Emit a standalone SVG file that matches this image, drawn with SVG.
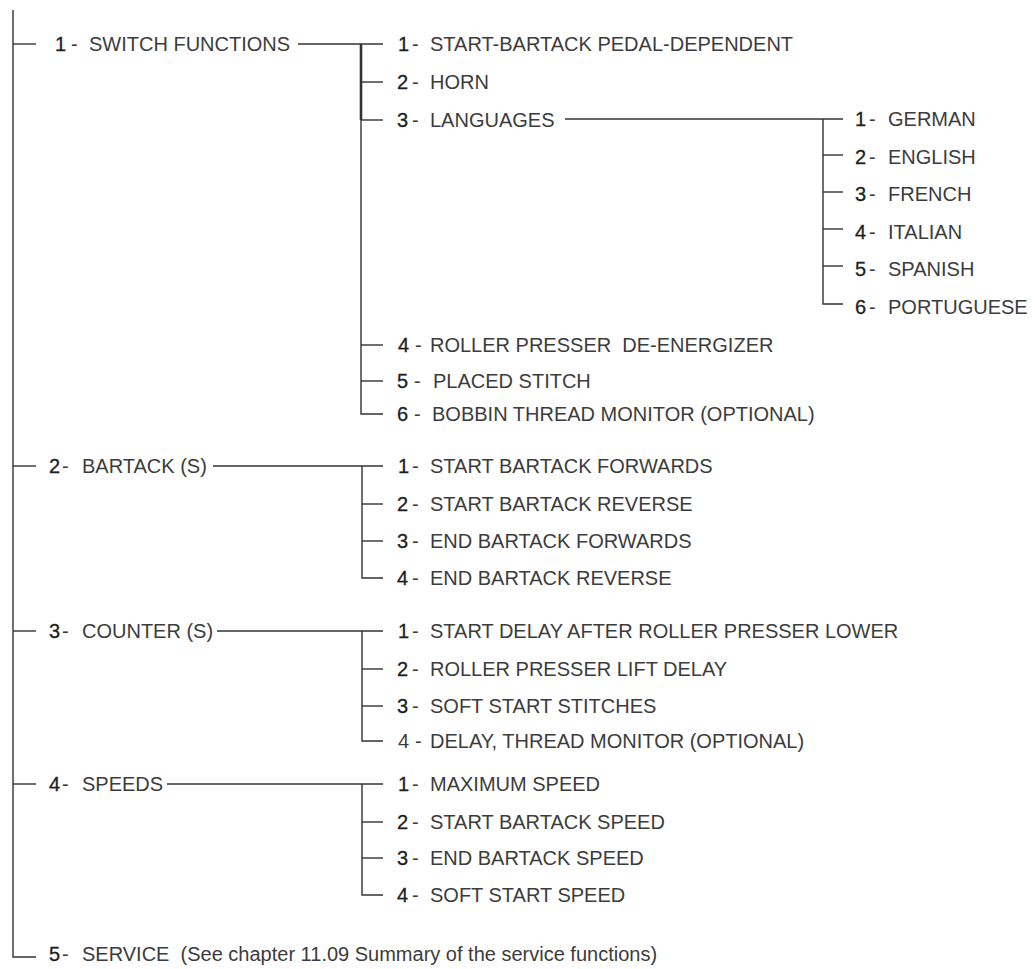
<svg xmlns="http://www.w3.org/2000/svg" width="1035" height="969" viewBox="0 0 1035 969">
<style>
text{font-family:"Liberation Sans",Arial,sans-serif;font-size:20px;fill:#3c3c3c;white-space:pre}
.n{fill:#1e1e1e;stroke:#1e1e1e;stroke-width:0.3}
.c line,.c path{stroke:#333;stroke-width:1.4;fill:none}
.c .thick{stroke-width:2.6}
</style>
<rect width="1035" height="969" fill="#fff"/>
<g class="c" id="connectors">
<path d="M13 10V957H36"/>
<line x1="13" y1="44" x2="36" y2="44"/>
<line x1="13" y1="466" x2="36" y2="466"/>
<line x1="13" y1="631" x2="36" y2="631"/>
<line x1="13" y1="784" x2="36" y2="784"/>
<line x1="298" y1="44" x2="383" y2="44"/>
<line class="thick" x1="361" y1="44" x2="361" y2="120"/>
<path d="M361 120V414H383"/>
<line x1="361" y1="82" x2="383" y2="82"/>
<line x1="361" y1="120" x2="383" y2="120"/>
<line x1="361" y1="345" x2="383" y2="345"/>
<line x1="361" y1="381" x2="383" y2="381"/>
<line x1="565" y1="119" x2="843" y2="119"/>
<path d="M823 119V304H843"/>
<line x1="823" y1="155" x2="843" y2="155"/>
<line x1="823" y1="192" x2="843" y2="192"/>
<line x1="823" y1="229" x2="843" y2="229"/>
<line x1="823" y1="266" x2="843" y2="266"/>
<line x1="213" y1="466" x2="383" y2="466"/>
<path d="M362 466V578H383"/>
<line x1="362" y1="504" x2="383" y2="504"/>
<line x1="362" y1="541" x2="383" y2="541"/>
<line x1="217" y1="631" x2="383" y2="631"/>
<path d="M362 631V741H383"/>
<line x1="362" y1="669" x2="383" y2="669"/>
<line x1="362" y1="706" x2="383" y2="706"/>
<line x1="167" y1="784" x2="383" y2="784"/>
<path d="M362 784V895H383"/>
<line x1="362" y1="822" x2="383" y2="822"/>
<line x1="362" y1="858" x2="383" y2="858"/>
</g>
<g id="n1"><text y="51"><tspan x="55" class="n">1</tspan><tspan x="71">-</tspan><tspan x="89">SWITCH FUNCTIONS</tspan></text></g>
<g id="n1-1"><text y="51"><tspan x="398" class="n">1</tspan><tspan x="412">-</tspan><tspan x="430">START-BARTACK PEDAL-DEPENDENT</tspan></text></g>
<g id="n1-2"><text y="89"><tspan x="397" class="n">2</tspan><tspan x="412">-</tspan><tspan x="430">HORN</tspan></text></g>
<g id="n1-3"><text y="127"><tspan x="397" class="n">3</tspan><tspan x="412">-</tspan><tspan x="430">LANGUAGES</tspan></text></g>
<g id="n1-3-1"><text y="126"><tspan x="855" class="n">1</tspan><tspan x="869">-</tspan><tspan x="888">GERMAN</tspan></text></g>
<g id="n1-3-2"><text y="164"><tspan x="855" class="n">2</tspan><tspan x="869">-</tspan><tspan x="888">ENGLISH</tspan></text></g>
<g id="n1-3-3"><text y="201"><tspan x="855" class="n">3</tspan><tspan x="869">-</tspan><tspan x="888">FRENCH</tspan></text></g>
<g id="n1-3-4"><text y="239"><tspan x="855" class="n">4</tspan><tspan x="869">-</tspan><tspan x="888">ITALIAN</tspan></text></g>
<g id="n1-3-5"><text y="276"><tspan x="855" class="n">5</tspan><tspan x="869">-</tspan><tspan x="888">SPANISH</tspan></text></g>
<g id="n1-3-6"><text y="314"><tspan x="855" class="n">6</tspan><tspan x="869">-</tspan><tspan x="888">PORTUGUESE</tspan></text></g>
<g id="n1-4"><text y="352"><tspan x="398" class="n">4</tspan><tspan x="415">-</tspan><tspan x="430">ROLLER PRESSER&#160; DE-ENERGIZER</tspan></text></g>
<g id="n1-5"><text y="388"><tspan x="397" class="n">5</tspan><tspan x="414">-</tspan><tspan x="433">PLACED STITCH</tspan></text></g>
<g id="n1-6"><text y="421"><tspan x="397" class="n">6</tspan><tspan x="414">-</tspan><tspan x="432">BOBBIN THREAD MONITOR (OPTIONAL)</tspan></text></g>
<g id="n2"><text y="473"><tspan x="49" class="n">2</tspan><tspan x="62">-</tspan><tspan x="82">BARTACK (S)</tspan></text></g>
<g id="n2-1"><text y="473"><tspan x="398" class="n">1</tspan><tspan x="412">-</tspan><tspan x="430">START BARTACK FORWARDS</tspan></text></g>
<g id="n2-2"><text y="511"><tspan x="397" class="n">2</tspan><tspan x="412">-</tspan><tspan x="430">START BARTACK REVERSE</tspan></text></g>
<g id="n2-3"><text y="548"><tspan x="397" class="n">3</tspan><tspan x="412">-</tspan><tspan x="430">END BARTACK FORWARDS</tspan></text></g>
<g id="n2-4"><text y="585"><tspan x="397" class="n">4</tspan><tspan x="412">-</tspan><tspan x="430">END BARTACK REVERSE</tspan></text></g>
<g id="n3"><text y="638"><tspan x="49" class="n">3</tspan><tspan x="62">-</tspan><tspan x="82">COUNTER (S)</tspan></text></g>
<g id="n3-1"><text y="638"><tspan x="398" class="n">1</tspan><tspan x="412">-</tspan><tspan x="430">START DELAY AFTER ROLLER PRESSER LOWER</tspan></text></g>
<g id="n3-2"><text y="676"><tspan x="397" class="n">2</tspan><tspan x="412">-</tspan><tspan x="430">ROLLER PRESSER LIFT DELAY</tspan></text></g>
<g id="n3-3"><text y="713"><tspan x="397" class="n">3</tspan><tspan x="412">-</tspan><tspan x="430">SOFT START STITCHES</tspan></text></g>
<g id="n3-4"><text y="748"><tspan x="398">4</tspan><tspan x="415">-</tspan><tspan x="430">DELAY, THREAD MONITOR (OPTIONAL)</tspan></text></g>
<g id="n4"><text y="791"><tspan x="49" class="n">4</tspan><tspan x="62">-</tspan><tspan x="82">SPEEDS</tspan></text></g>
<g id="n4-1"><text y="791"><tspan x="398" class="n">1</tspan><tspan x="412">-</tspan><tspan x="430">MAXIMUM SPEED</tspan></text></g>
<g id="n4-2"><text y="829"><tspan x="397" class="n">2</tspan><tspan x="412">-</tspan><tspan x="430">START BARTACK SPEED</tspan></text></g>
<g id="n4-3"><text y="865"><tspan x="397" class="n">3</tspan><tspan x="412">-</tspan><tspan x="430">END BARTACK SPEED</tspan></text></g>
<g id="n4-4"><text y="902"><tspan x="397" class="n">4</tspan><tspan x="412">-</tspan><tspan x="430">SOFT START SPEED</tspan></text></g>
<g id="n5"><text y="961"><tspan x="49" class="n">5</tspan><tspan x="62">-</tspan><tspan x="82">SERVICE&#160; (See chapter 11.09 Summary of the service functions)</tspan></text></g>
</svg>
